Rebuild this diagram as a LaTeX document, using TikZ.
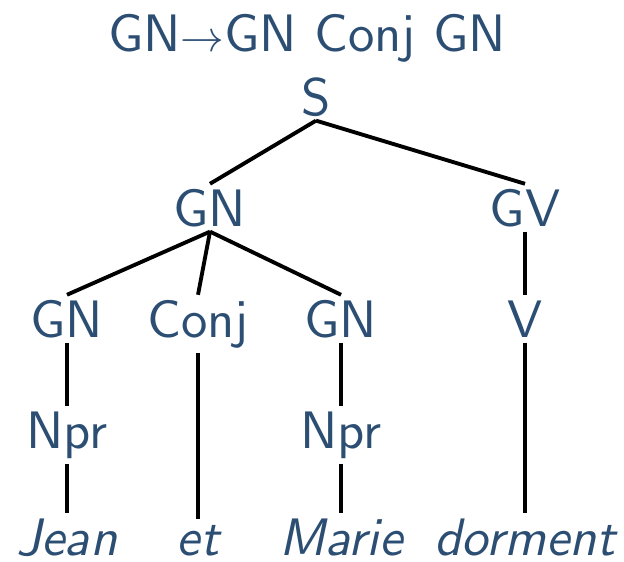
\documentclass[tikz,border=0pt]{standalone}
\usepackage{tikz}
\definecolor{treeblue}{RGB}{44,78,115}
\font\catfont=cmss10 at 30pt
\font\wordfont=cmssi10 at 30pt

\begin{document}
\begin{tikzpicture}[x=0.02cm,y=-0.02cm,
  cat/.style={text=treeblue,font=\fontsize{30}{36}\selectfont\catfont,inner sep=3pt,anchor=base},
  word/.style={cat,font=\fontsize{30}{36}\selectfont\wordfont},
  branch/.style={line width=2.2pt}]
  \useasboundingbox (0,0) rectangle (624,561);

  % rule
  \node [cat] (rule) at (307,51) {GN$\rightarrow$GN Conj GN};

  % categories
  \node [cat] (S) at (316,115) {S};
  \node [cat] (GN) at (210,226) {GN};
  \node [cat] (GV) at (525,226) {GV};
  \node [cat] (GNa) at (67,337) {GN};
  \node [cat] (Conj) at (198,337) {Conj};
  \node [cat] (GNb) at (341,337) {GN};
  \node [cat] (V) at (525,337) {V};
  \node [cat] (Npra) at (67,448) {Npr};
  \node [cat] (Nprb) at (341,448) {Npr};

  % words
  \node [word] (Jean) at (67,555) {Jean};
  \node [word] (et) at (198,555) {et};
  \node [word] (Marie) at (341,555) {Marie};
  \node [word] (dorment) at (525,555) {dorment};

  % branches
  \draw [branch] (S.south) -- (GN.north);
  \draw [branch] (S.south) -- (GV.north);
  \draw [branch] (GN.south) -- (GNa.north);
  \draw [branch] (GN.south) -- (Conj.north);
  \draw [branch] (GN.south) -- (GNb.north);
  \draw [branch] (GV.south) -- (V.north);
  \draw [branch] (GNa.south) -- (Npra.north);
  \draw [branch] (GNb.south) -- (Nprb.north);
  \draw [branch] (Conj.south) -- (et.north);
  \draw [branch] (V.south) -- (dorment.north);
  \draw [branch] (Npra.south) -- (Jean.north);
  \draw [branch] (Nprb.south) -- (Marie.north);

\end{tikzpicture}
\end{document}
